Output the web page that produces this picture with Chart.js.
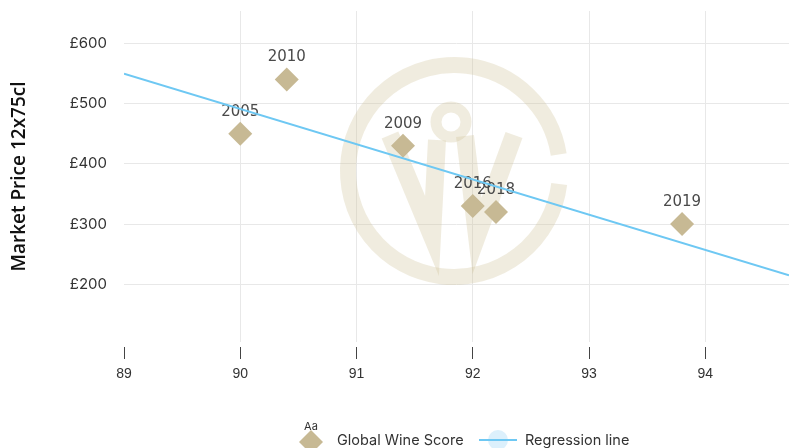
<!DOCTYPE html>
<html>
<head>
<meta charset="utf-8">
<script src="https://cdn.jsdelivr.net/npm/chart.js@4.4.1/dist/chart.umd.min.js"></script>
<style>
html,body{margin:0;padding:0;background:#fff}
#wrap{width:789px;height:448px;position:relative}
</style>
</head>
<body>
<div id="wrap"><canvas id="chart"></canvas></div>
<script>
// data
const years = ["2005", "2010", "2009", "2016", "2018", "2019"]
const scores = [90, 90.4, 91.4, 92, 92.2, 93.8]
const prices = [450, 540, 430, 330, 320, 300]
const regScores = [89, 94.72]
const regPrices = [550, 215]
const xTicks = [89, 90, 91, 92, 93, 94]
const yTicks = [200, 300, 400, 500, 600]

const TAN = "#c7b994"
const BLUE = "#6ec8f3"
const GRID = "#e8e8e8"

// watermark logo behind the points
const watermark = {
    id: "watermark",
    beforeDatasetsDraw(chart){
        const ctx = chart.ctx
        ctx.save()
        ctx.strokeStyle = "rgba(205,192,150,0.3)"
        ctx.lineCap = "butt"
        ctx.lineJoin = "miter"

        // ring, open on the right
        ctx.lineWidth = 16
        ctx.beginPath()
        ctx.arc(454, 171, 106, 7 * Math.PI / 180, (360 - 9) * Math.PI / 180)
        ctx.stroke()

        // the W
        ctx.lineWidth = 18
        ctx.beginPath()
        ctx.moveTo(390, 135)
        ctx.lineTo(432, 236)
        ctx.lineTo(437, 140)
        ctx.stroke()
        ctx.beginPath()
        ctx.moveTo(465, 136)
        ctx.lineTo(477, 236)
        ctx.lineTo(514, 135)
        ctx.stroke()

        // drop loop
        ctx.lineWidth = 11
        ctx.beginPath()
        ctx.arc(451, 122, 15, 0, Math.PI * 2)
        ctx.stroke()
        ctx.restore()

        // year labels above each point
        const meta = chart.getDatasetMeta(1)
        ctx.save()
        ctx.font = "15px 'DejaVu Sans'"
        ctx.fillStyle = "#4a4a4a"
        ctx.textAlign = "center"
        ctx.textBaseline = "middle"
        meta.data.forEach((pt, i) => {
            ctx.fillText(years[i], pt.x, pt.y - 22)
        })
        ctx.restore()
    }
}

// legend drawn by hand for the odd icons
const legendPlug = {
    id: "legendPlug",
    afterDraw(chart){
        const ctx = chart.ctx
        const y = 441
        ctx.save()

        ctx.fillStyle = "#333"
        ctx.font = "11px Inter"
        ctx.textAlign = "center"
        ctx.textBaseline = "middle"
        ctx.fillText("Aa", 311, 427)

        ctx.fillStyle = TAN
        ctx.beginPath()
        ctx.moveTo(311 - 12, y + 1)
        ctx.lineTo(311, y - 11)
        ctx.lineTo(311 + 12, y + 1)
        ctx.lineTo(311, y + 13)
        ctx.closePath()
        ctx.fill()

        ctx.fillStyle = "#333"
        ctx.font = "14.5px Inter"
        ctx.textAlign = "left"
        ctx.fillText(chart.data.datasets[1].label, 337, y)

        ctx.fillStyle = "#dcf0fc"
        ctx.beginPath()
        ctx.arc(498, y - 1, 10, 0, Math.PI * 2)
        ctx.fill()
        ctx.strokeStyle = BLUE
        ctx.lineWidth = 2
        ctx.beginPath()
        ctx.moveTo(479, y - 1)
        ctx.lineTo(517, y - 1)
        ctx.stroke()

        ctx.fillStyle = "#333"
        ctx.fillText(chart.data.datasets[0].label, 525, y)
        ctx.restore()
    }
}

new Chart(document.getElementById("chart"), {
    type: "scatter",
    data: {
        datasets: [
            {
                label: "Regression line",
                data: regScores.map((x, i) => ({x: x, y: regPrices[i]})),
                showLine: true,
                borderColor: BLUE,
                borderWidth: 2,
                pointRadius: 0,
                fill: false
            },
            {
                label: "Global Wine Score",
                data: scores.map((x, i) => ({x: x, y: prices[i]})),
                pointStyle: "rectRot",
                pointRadius: 12,
                pointHoverRadius: 12,
                backgroundColor: TAN,
                borderWidth: 0
            }
        ]
    },
    options: {
        responsive: true,
        maintainAspectRatio: false,
        animation: false,
        layout: {autoPadding: false, padding: {top: 11, left: 0, right: 0, bottom: 0}},
        plugins: {
            legend: {display: false},
            tooltip: {enabled: false}
        },
        scales: {
            x: {
                type: "linear",
                min: 89,
                max: 94.72,
                afterBuildTicks: s => { s.ticks = xTicks.map(v => ({value: v})) },
                afterFit: s => {
                    s.height = 106
                    s.paddingLeft = 0
                    s.paddingRight = 0
                },
                border: {display: false},
                grid: {
                    color: c => (c.tick && c.tick.value === 89) ? "rgba(0,0,0,0)" : GRID,
                    tickColor: "#444",
                    tickLength: 17,
                    tickBorderDash: [12, 5],
                    tickBorderDashOffset: 12
                },
                ticks: {
                    color: "#333",
                    font: {family: "'Liberation Sans'", size: 14},
                    padding: 7,
                    maxRotation: 0,
                    autoSkip: false
                }
            },
            y: {
                min: 104,
                max: 654,
                afterBuildTicks: s => { s.ticks = yTicks.map(v => ({value: v})) },
                afterFit: s => {
                    s.width = 124
                    s.paddingTop = 0
                    s.paddingBottom = 0
                },
                border: {display: false},
                grid: {color: GRID, drawTicks: false},
                ticks: {
                    color: "#333",
                    font: {family: "Inter", size: 15},
                    padding: 17,
                    callback: v => "£" + v
                },
                title: {
                    display: true,
                    text: "Market Price 12x75cl",
                    color: "#111",
                    font: {family: "'Open Sans'", size: 19, weight: "600"},
                    padding: {top: 8.5, bottom: 0}
                }
            }
        }
    },
    plugins: [watermark, legendPlug]
})
</script>
</body>
</html>
